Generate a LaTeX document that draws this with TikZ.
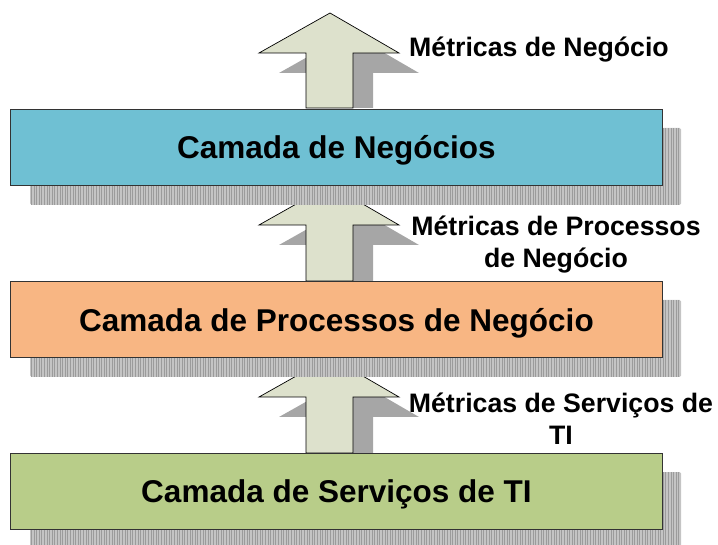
\documentclass[tikz,border=0pt]{standalone}
\usepackage{fontspec}
\setmainfont{Liberation Sans}
\definecolor{cblue}{RGB}{111,192,211}
\definecolor{corange}{RGB}{248,182,131}
\definecolor{cgreen}{RGB}{184,205,137}
\definecolor{carrow}{RGB}{221,225,204}
\definecolor{cshadow}{RGB}{166,166,166}
\definecolor{cgrid}{RGB}{155,155,155}
\definecolor{cgridbg}{RGB}{196,196,196}
\newcommand{\layerbox}[4]{%
  % #1 name, #2 top y, #3 fill, #4 text
  \fill[cgridbg,rounded corners=1.5pt] (30,#2+19) rectangle (681,#2+96);
  \begin{scope}
    \clip (30,#2+19) rectangle (681,#2+96);
    \draw[cgrid,line width=0.3pt] (30,#2+19) grid[step=2.6] (681,#2+96);
  \end{scope}
  \node[layer,fill=#3,minimum width=652pt,minimum height=76pt,anchor=north west] (#1) at (10,#2) {#4};
}
\newcommand{\uparrowshape}[3]{%
  % #1 tip y, #2 base y of head, #3 bottom y
  \fill[cshadow] (350,#1+20) -- (419,#2+20) -- (373,#2+20) -- (373,#3) -- (326,#3) -- (326,#2+20) -- (279,#2+20) -- cycle;
  \draw[fill=carrow,line width=0.7pt] (330,#1) -- (399,#2) -- (353,#2) -- (353,#3) -- (306,#3) -- (306,#2) -- (259,#2) -- cycle;
}
\tikzset{
  layer/.style={draw=black!80,line width=0.9pt,inner sep=0pt,text depth=0pt,font=\bfseries\fontsize{31.5}{34}\selectfont},
  metric/.style={align=center,font=\bfseries\fontsize{26.7}{32}\selectfont,inner sep=0pt}
}
\begin{document}
\begin{tikzpicture}[x=1pt,y=-1pt]
\useasboundingbox (0,0) rectangle (718,545);
\uparrowshape{13}{53}{108}
\uparrowshape{185}{225}{281}
\uparrowshape{357}{397}{453}
\layerbox{neg}{109}{cblue}{Camada de Negócios}
\layerbox{proc}{281}{corange}{Camada de Processos de Negócio}
\layerbox{serv}{453}{cgreen}{Camada de Serviços de TI}
\node[metric] (m1) at (539,50) {Métricas de Negócio};
\node[metric] (m2) at (556,245) {Métricas de Processos\\de Negócio};
\node[metric] (m3) at (561,419) {Métricas de Serviços de\\TI};
\end{tikzpicture}
\end{document}
